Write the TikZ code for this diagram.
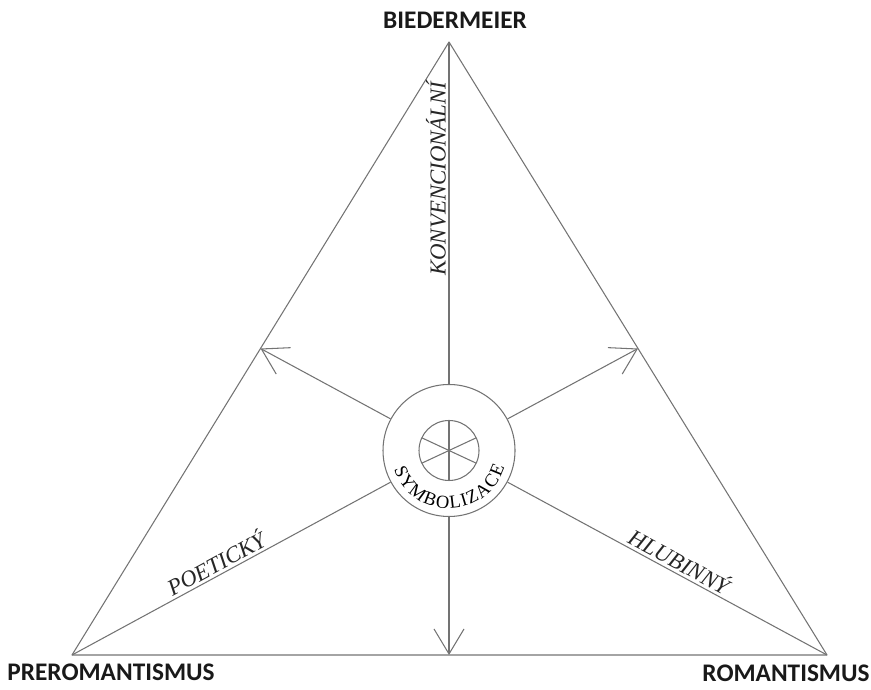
\documentclass[tikz,border=0pt]{standalone}
\usepackage{fontspec}
\newfontfamily\cornerfont{Carlito}
\newfontfamily\timesfont{Liberation Serif}
\usetikzlibrary{arrows.meta,decorations.text}

\begin{document}
\begin{tikzpicture}[
  grayline/.style = {draw=black!55, line width=0.6pt},
  arr/.style      = {grayline, -{Straight Barb[length=5mm, width=6mm]}},
  corner/.style   = {font=\cornerfont\bfseries\fontsize{14.4}{17}\selectfont, text=black!90},
  axis/.style     = {font=\timesfont\itshape\fontsize{13}{15}\selectfont, text=black!85, inner sep=1.5pt}
]
\useasboundingbox (0,0) rectangle (17.42,13.78);

% ---- TRIANGLE: corners and sides ----
\coordinate (apex)   at (8.98,12.94);
\coordinate (prerom) at (1.44,0.68);
\coordinate (rom)    at (16.54,0.68);
\coordinate (midL)   at (5.21,6.81);
\coordinate (midR)   at (12.76,6.81);
\coordinate (midB)   at (8.98,0.68);

\node[corner] (lblB) at (9.10,13.37) {BIEDERMEIER};
\node[corner] (lblP) at (2.22,0.33) {PREROMANTISMUS};
\node[corner] (lblR) at (15.72,0.31) {ROMANTISMUS};

\draw[grayline, line join=round] (apex) -- (rom) -- (prerom) -- cycle;

% ---- CENTRE: wheel ----
\node[grayline, circle, minimum size=2.64cm, inner sep=0pt] (symb) at (8.98,4.77) {};
\draw[grayline] (symb.center) circle (0.6cm);
\foreach \a in {25,90,155}
  \draw[grayline] (symb.center) ++(\a:0.6) -- ++(\a+180:1.2);
\path[decorate, decoration={text along path, text align={fit to path},
    text={|\timesfont\fontsize{10.5}{12}\selectfont|SYMBOLIZACE}}]
  (symb.center) ++(199:1.16) arc[start angle=199, end angle=343, radius=1.16];

% ---- SPOKES ----
\draw[grayline] (symb) -- node[axis, sloped, above, pos=0.6] {KONVENCIONÁLNÍ} (apex);
\draw[arr] (symb) -- (midL);
\draw[arr] (symb) -- (midR);
\draw[arr] (symb) -- (midB);
\draw[grayline] (symb) -- node[axis, sloped, above, pos=0.53] {POETICKÝ} (prerom);
\draw[grayline] (symb) -- node[axis, sloped, above, pos=0.52] {HLUBINNÝ} (rom);

\end{tikzpicture}
\end{document}
